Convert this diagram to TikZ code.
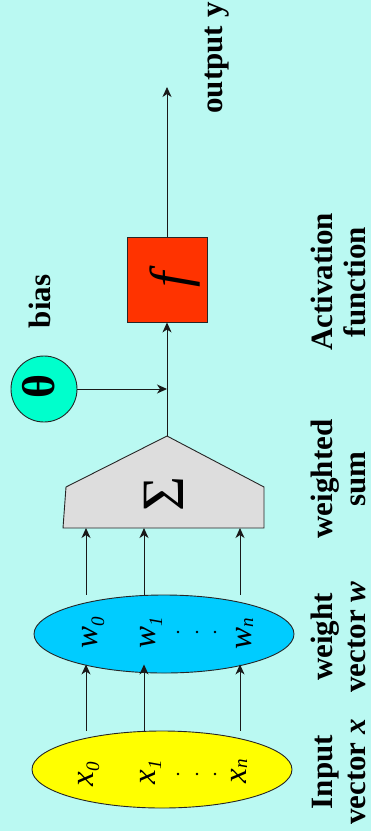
\documentclass[tikz,border=0pt]{standalone}
\usepackage{fontspec}
\setmainfont{Liberation Serif}
\usetikzlibrary{arrows.meta,shapes.geometric}
\definecolor{bgc}{RGB}{186,249,242}
\definecolor{yelc}{RGB}{255,255,0}
\definecolor{wblue}{RGB}{0,204,255}
\definecolor{sgray}{RGB}{221,221,221}
\definecolor{fred}{RGB}{255,51,0}
\definecolor{thc}{RGB}{0,255,204}
\newcommand\vsub[2]{\raisebox{-#1pt}{\fontsize{19}{19}\selectfont #2}}
\begin{document}
\begin{tikzpicture}[x=1pt,y=-1pt,
  conn/.style={draw=black!90, line width=0.9pt},
  arr/.style={conn, -{Stealth[length=10pt,width=9pt,inset=3pt]}},
  lbl/.style={rotate=90, anchor=base, inner sep=0, font=\fontsize{31}{31}\selectfont\bfseries},
  var/.style={rotate=90, anchor=base, inner sep=0, font=\fontsize{33}{33}\selectfont\itshape},
  shapeline/.style={draw=black!85, line width=0.9pt},
]
\fill[bgc] (0,0) rectangle (371,831);
\useasboundingbox (0,0) rectangle (371,831);

% column positions
\coordinate (c0) at (86,0);
\coordinate (c1) at (144,0);
\coordinate (cn) at (240,0);

% input and weight ellipses
\node[ellipse, shapeline, fill=yelc, minimum width=260pt, minimum height=77pt, inner sep=0] (xin) at (162,769.5) {};
\node[ellipse, shapeline, fill=wblue, minimum width=260pt, minimum height=78pt, inner sep=0] (win) at (164,634) {};

% summation block
\draw[shapeline, fill=sgray] (63,528) -- (66,487) -- (167,436) -- (264,487) -- (264,528) -- cycle;
\coordinate (apex) at (167,436);
\coordinate (sbase) at (163,528);
\node[rotate=90, inner sep=0, font=\fontsize{60}{60}\selectfont] (sig) at (163.5,494) {Σ};

% activation box
\node[shapeline, fill=fred, minimum width=80pt, minimum height=85pt, inner sep=0] (fbox) at (167,279.5) {};
\node[rotate=90, inner sep=0, font=\fontsize{55}{55}\selectfont\itshape] (ftxt) at (175,280) {f};

% bias circle
\node[circle, shapeline, fill=thc, minimum size=66pt, inner sep=0] (theta) at (44,389) {};
\node[rotate=90, inner sep=0, font=\fontsize{46}{46}\selectfont\bfseries] (thtxt) at (39,386) {θ};

\coordinate (outtip) at (167,87);

% connectors
\foreach \c in {c0,c1,cn}{
  \draw[arr, shorten >=-9pt] (xin.north -| \c) -- (win.south -| \c);
  \draw[arr] (win.north -| \c) -- (sbase -| \c);
}
\draw[arr] (apex) -- (fbox.south);
\draw[arr] (theta.east) -- (theta.east -| apex);
\draw[arr] (fbox.north) -- (outtip);

% variables
\node[var] (x0) at (93,774.5) {x\vsub{6}{0}};
\node[var] (x1) at (155,772.5) {x\vsub{6}{1}};
\node[var] (xn) at (246,771) {x\vsub{1}{n}};
\node[var] (w0) at (97,633) {w\vsub{7}{0}};
\node[var] (w1) at (155,633) {w\vsub{7}{1}};
\node[var] (wn) at (251,634) {w\vsub{2}{n}};
\foreach \xx in {178,197,215}{
  \fill (\xx,774) circle (1.3);
  \fill (\xx,632) circle (1.3);
}

% labels
\node[lbl] (outl) at (222,58) {output y};
\node[lbl] (biasl) at (50,301.5) {bias};
\node[lbl] (in1) at (332,772) {Input};
\node[lbl] (in2) at (365,772) {vector \textit{x}};
\node[lbl] (we1) at (332,637) {weight};
\node[lbl] (we2) at (365,637) {vector \textit{w}};
\node[lbl] (ws1) at (332,479) {weighted};
\node[lbl] (ws2) at (365,479) {sum};
\node[lbl] (af1) at (332,282) {Activation};
\node[lbl] (af2) at (365,282) {function};
\end{tikzpicture}
\end{document}
